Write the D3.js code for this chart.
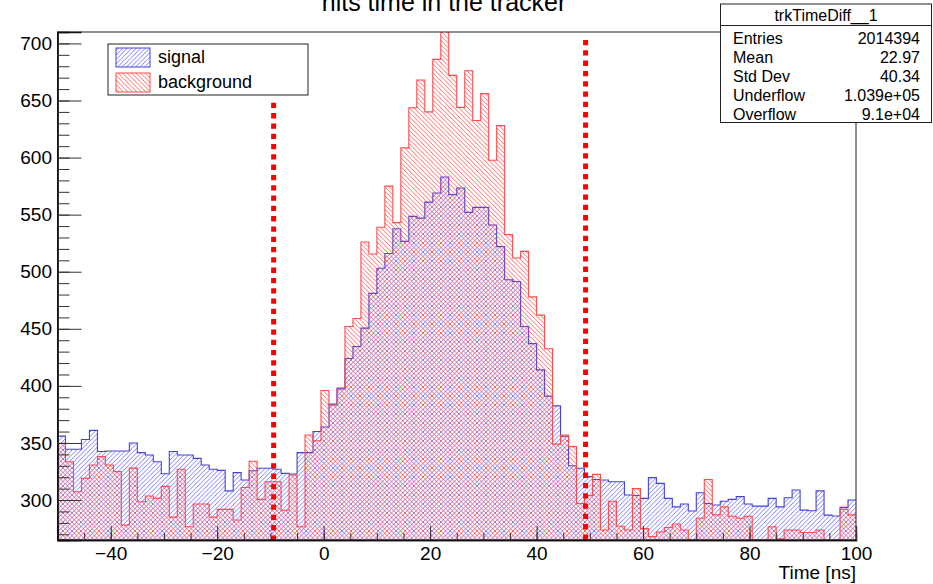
<!DOCTYPE html>
<html>
<head>
<meta charset="utf-8">
<script src="https://cdn.jsdelivr.net/npm/d3@7"></script>
<style>
  body { margin: 0; background: #fff; }
  text { font-family: "Liberation Sans", Arial, Helvetica, sans-serif; fill: #000; }
</style>
</head>
<body>
<svg id="chart" width="933" height="584"></svg>
<script>
// Histogram binning: 100 bins of 1.5 ns from -50 ns to 100 ns
const binStart = -50;
const binWidth = 1.5;

// Hit counts per bin, signal sample
const signal = [
  356, 344.5, 344.5, 353, 361, 342.5, 343, 343, 343, 350, 341.5, 339.5, 333.5, 323, 342.5, 339.5,
  339.5, 336.5, 330.7, 327, 326, 308, 324, 317.5, 325.7, 327.8, 327.8, 327, 323.4, 322.8, 341.5, 341.5, 360,
  364, 384, 398, 424, 434.5, 450.6, 481, 503, 516, 537.7, 526.6, 548.5, 547, 561, 569,
  583, 567.5, 573.4, 552, 556.4, 556.4, 541, 522, 493, 491.5, 452, 437, 414, 391, 382.5, 356,
  330, 327.8, 320.5, 318, 317.5, 316, 316, 304.4, 304, 301.5, 319.6, 314.6, 301.5, 294, 296.5, 290.4,
  306.4, 297, 295.6, 299, 300.6, 303, 296.5, 294.7, 294.7, 301.5, 294, 302, 308.8, 291.2, 290.6, 308, 286.8, 286, 293.6, 300
];

// Hit counts per bin, background sample
const background = [
  349.7, 333.6, 307.3, 319, 330.7, 338, 330.7, 324.9, 278, 328, 298.5, 303.5, 301.5, 312, 285, 327,
  276.6, 296.5, 296.5, 285, 291.8, 291.8, 282.5, 311, 334, 300.6, 316, 316, 291, 322, 276.6, 357, 352,
  396, 383, 397, 452, 459, 526, 515.5, 539, 575, 543, 608.5, 643.6, 668, 640, 686,
  711, 672, 644, 676, 632.5, 656, 597.6, 628, 532.5, 512, 517.8, 478, 462, 432.5, 349, 357,
  346.8, 297, 304, 322.5, 273.7, 299, 277, 273.7, 310, 275, 268, 272, 276, 279, 273.7, 265,
  284, 318, 287, 294, 285.8, 284, 285.8, 262, 262, 276.6, 266, 273.7, 273.7, 271.6, 271.6, 273.7, 264, 262, 291.8, 287
];

const xDomain = [-50, 100];
const yDomain = [265, 710];
const xTickValues = [-40, -20, 0, 20, 40, 60, 80, 100];
const xMinorValues = d3.range(-50, 100.1, 5);
const yTickValues = [300, 350, 400, 450, 500, 550, 600, 650, 700];
const yMinorValues = d3.range(270, 710, 10);

// Timing window cuts (dashed markers)
const cutX = [-9.4, 49.2];
const cutTop = [648, 703];

const statsTitle = "trkTimeDiff__1";
const statsLabels = ["Entries", "Mean", "Std Dev", "Underflow", "Overflow"];
const statsValues = ["2014394", "22.97", "40.34", "1.039e+05", "9.1e+04"];

const legendLabels = ["signal", "background"];

const title = "hits time in the tracker";
const xTitle = "Time [ns]";

// ---- layout ----
const frame = { left: 57.5, right: 856, top: 32, bottom: 540 };
const blueLine = "#4444d4", blueHatch = "#5a5aff";
const redLine = "#ff4a4a", redHatch = "#ff4242";

const svg = d3.select("#chart");
const x = d3.scaleLinear().domain(xDomain).range([frame.left, frame.right]);
const y = d3.scaleLinear().domain(yDomain).range([frame.bottom, frame.top]);

const defs = svg.append("defs");
function hatch(id, color, forward) {
  const s = 4.5;
  const p = defs.append("pattern").attr("id", id)
    .attr("patternUnits", "userSpaceOnUse").attr("width", s).attr("height", s);
  const d = forward
    ? `M0,${s} L${s},0 M${-s/2},${s/2} L${s/2},${-s/2} M${s/2},${1.5*s} L${1.5*s},${s/2}`
    : `M0,0 L${s},${s} M${-s/2},${s/2} L${s/2},${1.5*s} M${s/2},${-s/2} L${1.5*s},${s/2}`;
  p.append("path").attr("d", d).attr("stroke", color).attr("stroke-width", 0.8).attr("fill", "none");
}
hatch("hatchSignal", blueHatch, true);
hatch("hatchBackground", redHatch, false);

defs.append("clipPath").attr("id", "frameClip").append("rect")
  .attr("x", frame.left).attr("y", frame.top)
  .attr("width", frame.right - frame.left).attr("height", frame.bottom - frame.top);

defs.append("filter").attr("id", "soft").attr("x", "-200%").attr("width", "500%")
  .append("feGaussianBlur").attr("stdDeviation", 3);

function stepPoints(values) {
  const pts = values.map((v, i) => [binStart + i * binWidth, v]);
  pts.push([binStart + values.length * binWidth, values[values.length - 1]]);
  return pts;
}

const area = d3.area().curve(d3.curveStepAfter)
  .x(d => x(d[0])).y0(y(yDomain[0])).y1(d => y(Math.max(d[1], yDomain[0])));
const outline = d3.line().curve(d3.curveStepAfter)
  .x(d => x(d[0])).y(d => y(Math.max(d[1], yDomain[0])));

const plot = svg.append("g").attr("clip-path", "url(#frameClip)");

const series = [
  { values: signal, fill: "url(#hatchSignal)", stroke: blueLine },
  { values: background, fill: "url(#hatchBackground)", stroke: redLine }
];
series.forEach(s => {
  const pts = stepPoints(s.values);
  plot.append("path").attr("d", area(pts)).attr("fill", s.fill);
  plot.append("path").attr("d", outline(pts)).attr("fill", "none")
    .attr("stroke", s.stroke).attr("stroke-width", 1.1);
});

// dashed cut markers with a faint halo
cutX.forEach((cx, i) => {
  plot.append("line").attr("x1", x(cx)).attr("x2", x(cx))
    .attr("y1", y(cutTop[i])).attr("y2", frame.bottom)
    .attr("stroke", "#000").attr("stroke-opacity", 0.08).attr("stroke-width", 8)
    .attr("filter", "url(#soft)");
  plot.append("line").attr("x1", x(cx)).attr("x2", x(cx))
    .attr("y1", y(cutTop[i])).attr("y2", frame.bottom)
    .attr("stroke", "#ff0000").attr("stroke-width", 5)
    .attr("stroke-dasharray", "5.3,5");
});

// frame
svg.append("rect").attr("x", frame.left).attr("y", frame.top)
  .attr("width", frame.right - frame.left).attr("height", frame.bottom - frame.top)
  .attr("fill", "none").attr("stroke", "#222").attr("stroke-width", 1);

// axes
const fontSize = 19;
svg.append("g").attr("transform", `translate(0,${frame.bottom})`)
  .call(d3.axisBottom(x).tickValues(xTickValues).tickSize(-14).tickPadding(6.5).tickFormat(d3.format("d")));
svg.append("g").attr("transform", `translate(0,${frame.bottom})`)
  .call(d3.axisBottom(x).tickValues(xMinorValues).tickSize(-7).tickFormat(""));
svg.append("g").attr("transform", `translate(${frame.left},0)`)
  .call(d3.axisLeft(y).tickValues(yTickValues).tickSize(-24).tickPadding(5.5).tickFormat(d3.format("d")));
svg.append("g").attr("transform", `translate(${frame.left},0)`)
  .call(d3.axisLeft(y).tickValues(yMinorValues).tickSize(-12).tickFormat(""));
svg.selectAll(".domain").attr("stroke", "#111").attr("stroke-width", 1.3);
svg.selectAll(".tick line").attr("stroke", "#333").attr("stroke-width", 1);
svg.selectAll(".tick text").attr("font-size", fontSize)
  .attr("font-family", '"Liberation Sans", Arial, sans-serif').attr("fill", "#000");

svg.append("text").attr("x", frame.right).attr("y", 579).attr("text-anchor", "end")
  .attr("font-size", fontSize).text(xTitle);

// title
svg.append("text").attr("x", 444).attr("y", 11).attr("text-anchor", "middle")
  .attr("font-size", 25).text(title);

// legend
const lg = svg.append("g");
lg.append("rect").attr("x", 108).attr("y", 44).attr("width", 200).attr("height", 51)
  .attr("fill", "#fff").attr("stroke", "#222").attr("stroke-width", 1);
legendLabels.forEach((lab, i) => {
  const yy = 48 + i * 25;
  lg.append("rect").attr("x", 116).attr("y", yy).attr("width", 34).attr("height", 19)
    .attr("fill", i === 0 ? "url(#hatchSignal)" : "url(#hatchBackground)")
    .attr("stroke", i === 0 ? blueLine : redLine).attr("stroke-width", 1);
  lg.append("text").attr("x", 158).attr("y", yy + 15).attr("font-size", 18).text(lab);
});

// statistics box
const sb = { x: 720.5, y: 4, w: 211, h: 118.5 };
const st = svg.append("g");
st.append("rect").attr("x", sb.x).attr("y", sb.y).attr("width", sb.w).attr("height", sb.h)
  .attr("fill", "#fff").attr("stroke", "#222").attr("stroke-width", 1);
st.append("line").attr("x1", sb.x).attr("x2", sb.x + sb.w).attr("y1", 25.5).attr("y2", 25.5)
  .attr("stroke", "#222").attr("stroke-width", 1);
st.append("text").attr("x", sb.x + sb.w / 2).attr("y", 21).attr("text-anchor", "middle")
  .attr("font-size", 16).text(statsTitle);
statsLabels.forEach((lab, i) => {
  const yy = 43.5 + i * 19.2;
  st.append("text").attr("x", 733).attr("y", yy).attr("font-size", 16).text(lab);
  st.append("text").attr("x", 920).attr("y", yy).attr("text-anchor", "end")
    .attr("font-size", 16).text(statsValues[i]);
});
</script>
</body>
</html>
